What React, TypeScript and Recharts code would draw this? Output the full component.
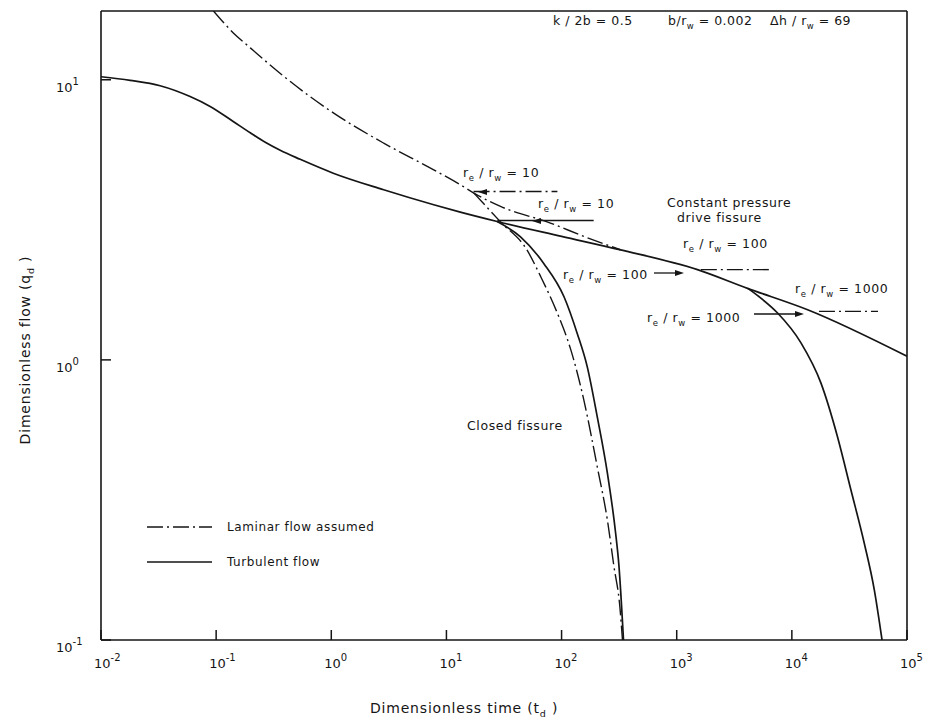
import { LineChart, Line, XAxis, YAxis, ReferenceLine } from 'recharts';

const FONT = '"DejaVu Sans", sans-serif';
const INK = '#151515';
const LAMINAR_DASH = '16 4 2 4';

const xTicks = [0.01, 0.1, 1, 10, 100, 1000, 10000, 100000];
const yTicks = [0.1, 1, 10];
const xMin = 0.01;
const xMax = 100000;
const yMin = 0.1;
const yMax = 17.6;

// turbulent flow, constant pressure drive fissure (long curve)
const turbMainT = [0.01, 0.0179, 0.0326, 0.0594, 0.0887, 0.1406, 0.1977, 0.267, 0.36, 0.537, 1.04, 2.85, 7.76, 13.2, 27.6, 100, 326, 1514, 4120, 13700, 100000];
const turbMainQ = [10.25, 9.95, 9.52, 8.71, 8.03, 7.1, 6.47, 5.98, 5.6, 5.2, 4.64, 4.05, 3.58, 3.37, 3.12, 2.76, 2.47, 2.1, 1.8, 1.51, 1.03];

// turbulent flow, closed fissure
const turbClosedT = [27.6, 44, 70, 105, 137, 167, 204, 250, 295, 315, 345];
const turbClosedQ = [3.12, 2.75, 2.21, 1.68, 1.24, 0.946, 0.627, 0.394, 0.24, 0.184, 0.1];

// turbulent flow, second closed branch (right)
const turbClosed2T = [4150, 5200, 7520, 12000, 17900, 24900, 32600, 42600, 52000, 60700];
const turbClosed2Q = [1.8, 1.68, 1.47, 1.15, 0.826, 0.532, 0.343, 0.221, 0.151, 0.1];

// laminar flow, constant pressure
const lamMainT = [0.0948, 0.141, 0.198, 0.385, 1.05, 2.85, 7.76, 13.2, 17.3, 29.5, 80, 156, 326];
const lamMainQ = [17.6, 14.7, 13.0, 10.3, 7.6, 5.94, 4.77, 4.22, 3.94, 3.53, 3.08, 2.76, 2.47];

// laminar flow, closed fissure
const lamClosedT = [17.3, 29.5, 50, 65.6, 91.8, 120, 156, 204, 250, 285, 321, 338];
const lamClosedQ = [3.94, 3.11, 2.47, 1.99, 1.47, 1.09, 0.72, 0.416, 0.268, 0.183, 0.131, 0.1];

// steady levels for re/rw
const lam10T = [17.2, 92];
const lam10Q = [3.99, 3.99];
const turb10T = [27.7, 190];
const turb10Q = [3.145, 3.145];
const lam100T = [1620, 6560];
const lam100Q = [2.1, 2.1];
const lam1000T = [17200, 56000];
const lam1000Q = [1.49, 1.49];

const pts = (t: number[], q: number[]) => t.map((v, i) => ({ t: v, q: q[i] }));

const XTick = ({ x, y, payload }: any) => {
  const e = Math.round(Math.log10(payload.value));
  return (
    <g>
      <line x1={x} y1={y} x2={x} y2={y - 10} stroke={INK} strokeWidth={1.5} />
      <text x={x - 7} y={y + 28} fontSize={13} fill={INK} fontFamily={FONT}>
        10<tspan dy={-7} fontSize={10}>{e}</tspan>
      </text>
    </g>
  );
};

const YTick = ({ x, y, payload }: any) => {
  const e = Math.round(Math.log10(payload.value));
  return (
    <g>
      <line x1={x} y1={y} x2={x + 10} y2={y} stroke={INK} strokeWidth={1.5} />
      <text x={x - 45} y={y + 12} fontSize={13} fill={INK} fontFamily={FONT}>
        10<tspan dy={-7} fontSize={10}>{e}</tspan>
      </text>
    </g>
  );
};

// r_e / r_w = N label
const ReRw = ({ x, y, n }: { x: number; y: number; n: string }) => (
  <text x={x} y={y} fontSize={12.5} fill={INK} fontFamily={FONT} letterSpacing={0.6}>
    r<tspan dy={4} fontSize={8.5}>e</tspan>
    <tspan dy={-4}> / r</tspan>
    <tspan dy={4} fontSize={8.5}>w</tspan>
    <tspan dy={-4}> = {n}</tspan>
  </text>
);

const Arrow = ({ x1, x2, y }: { x1: number; x2: number; y: number }) => (
  <g>
    <line x1={x1} y1={y} x2={x2 - 6} y2={y} stroke={INK} strokeWidth={1.3} />
    <polygon points={`${x2},${y} ${x2 - 9},${y - 3} ${x2 - 9},${y + 3}`} fill={INK} />
  </g>
);

export default function App() {
  const lineProps = { dataKey: 'q', dot: false, isAnimationActive: false, stroke: INK } as const;
  return (
    <div style={{ position: 'absolute', left: 0, top: 0, width: 931, height: 722, background: '#fff' }}>
      <LineChart width={931} height={722} margin={{ top: 11, right: 24, left: 0, bottom: 0 }}>
        <XAxis
          dataKey="t"
          type="number"
          scale="log"
          domain={[xMin, xMax]}
          ticks={xTicks}
          interval={0}
          allowDataOverflow
          height={82}
          tickSize={0}
          tickMargin={0}
          tickLine={false}
          axisLine={{ stroke: INK, strokeWidth: 1.6 }}
          tick={<XTick />}
        />
        <YAxis
          dataKey="q"
          type="number"
          scale="log"
          domain={[yMin, yMax]}
          ticks={yTicks}
          interval={0}
          allowDataOverflow
          width={101}
          tickSize={0}
          tickMargin={0}
          tickLine={false}
          axisLine={{ stroke: INK, strokeWidth: 1.6 }}
          tick={<YTick />}
        />
        <ReferenceLine x={xMax} stroke={INK} strokeWidth={1.6} />
        <ReferenceLine y={yMax} stroke={INK} strokeWidth={1.6} />

        <Line {...lineProps} data={pts(lamMainT, lamMainQ)} type="monotone" strokeWidth={1.4} strokeDasharray={LAMINAR_DASH} />
        <Line {...lineProps} data={pts(lamClosedT, lamClosedQ)} type="monotone" strokeWidth={1.4} strokeDasharray={LAMINAR_DASH} />
        <Line {...lineProps} data={pts(lam10T, lam10Q)} type="linear" strokeWidth={1.4} strokeDasharray={LAMINAR_DASH} />
        <Line {...lineProps} data={pts(lam100T, lam100Q)} type="linear" strokeWidth={1.4} strokeDasharray={LAMINAR_DASH} />
        <Line {...lineProps} data={pts(lam1000T, lam1000Q)} type="linear" strokeWidth={1.4} strokeDasharray={LAMINAR_DASH} />

        <Line {...lineProps} data={pts(turbMainT, turbMainQ)} type="monotone" strokeWidth={1.7} />
        <Line {...lineProps} data={pts(turbClosedT, turbClosedQ)} type="monotone" strokeWidth={1.7} />
        <Line {...lineProps} data={pts(turbClosed2T, turbClosed2Q)} type="monotone" strokeWidth={1.7} />
        <Line {...lineProps} data={pts(turb10T, turb10Q)} type="linear" strokeWidth={1.7} />
      </LineChart>

      <svg width={931} height={722} style={{ position: 'absolute', left: 0, top: 0, pointerEvents: 'none' }}>
        {/* parameters */}
        <g fontFamily={FONT} fontSize={12.5} fill={INK} letterSpacing={0.5}>
          <text x={553} y={25}>k / 2b = 0.5</text>
          <text x={668} y={25}>
            b/r<tspan dy={4} fontSize={8.5}>w</tspan>
            <tspan dy={-4}> = 0.002</tspan>
          </text>
          <text x={770} y={25}>
            Δh / r<tspan dy={4} fontSize={8.5}>w</tspan>
            <tspan dy={-4}> = 69</tspan>
          </text>
        </g>

        <ReRw x={463} y={177} n="10" />
        <ReRw x={538} y={208} n="10" />
        <ReRw x={683} y={248} n="100" />
        <ReRw x={563} y={279} n="100" />
        <ReRw x={795} y={293} n="1000" />
        <ReRw x={647} y={322} n="1000" />
        <Arrow x1={654} x2={684} y={273} />
        <Arrow x1={754} x2={804} y={314} />
        <polygon points="478,192 487,189 487,195" fill={INK} />
        <polygon points="532,221 541,218 541,224" fill={INK} />

        <g fontFamily={FONT} fontSize={12.5} fill={INK} letterSpacing={0.6}>
          <text x={667} y={207}>Constant pressure</text>
          <text x={677} y={222}>drive fissure</text>
          <text x={467} y={430}>Closed fissure</text>
        </g>

        {/* legend */}
        <line x1={147} y1={527} x2={212} y2={527} stroke={INK} strokeWidth={1.4} strokeDasharray={LAMINAR_DASH} />
        <line x1={147} y1={562} x2={212} y2={562} stroke={INK} strokeWidth={1.7} />
        <g fontFamily={FONT} fontSize={12} fill={INK} letterSpacing={0.6}>
          <text x={227} y={531}>Laminar flow assumed</text>
          <text x={227} y={566}>Turbulent flow</text>
        </g>

        {/* axis titles */}
        <text x={370} y={713} fontFamily={FONT} fontSize={14} fill={INK} letterSpacing={0.8}>
          Dimensionless time (t<tspan dy={4} fontSize={9.5}>d</tspan>
          <tspan dy={-4}> )</tspan>
        </text>
        <text
          transform="translate(30,350) rotate(-90)"
          textAnchor="middle"
          fontFamily={FONT}
          fontSize={14}
          fill={INK}
          letterSpacing={0.8}
        >
          Dimensionless flow (q<tspan dy={4} fontSize={9.5}>d</tspan>
          <tspan dy={-4}> )</tspan>
        </text>
      </svg>
    </div>
  );
}
